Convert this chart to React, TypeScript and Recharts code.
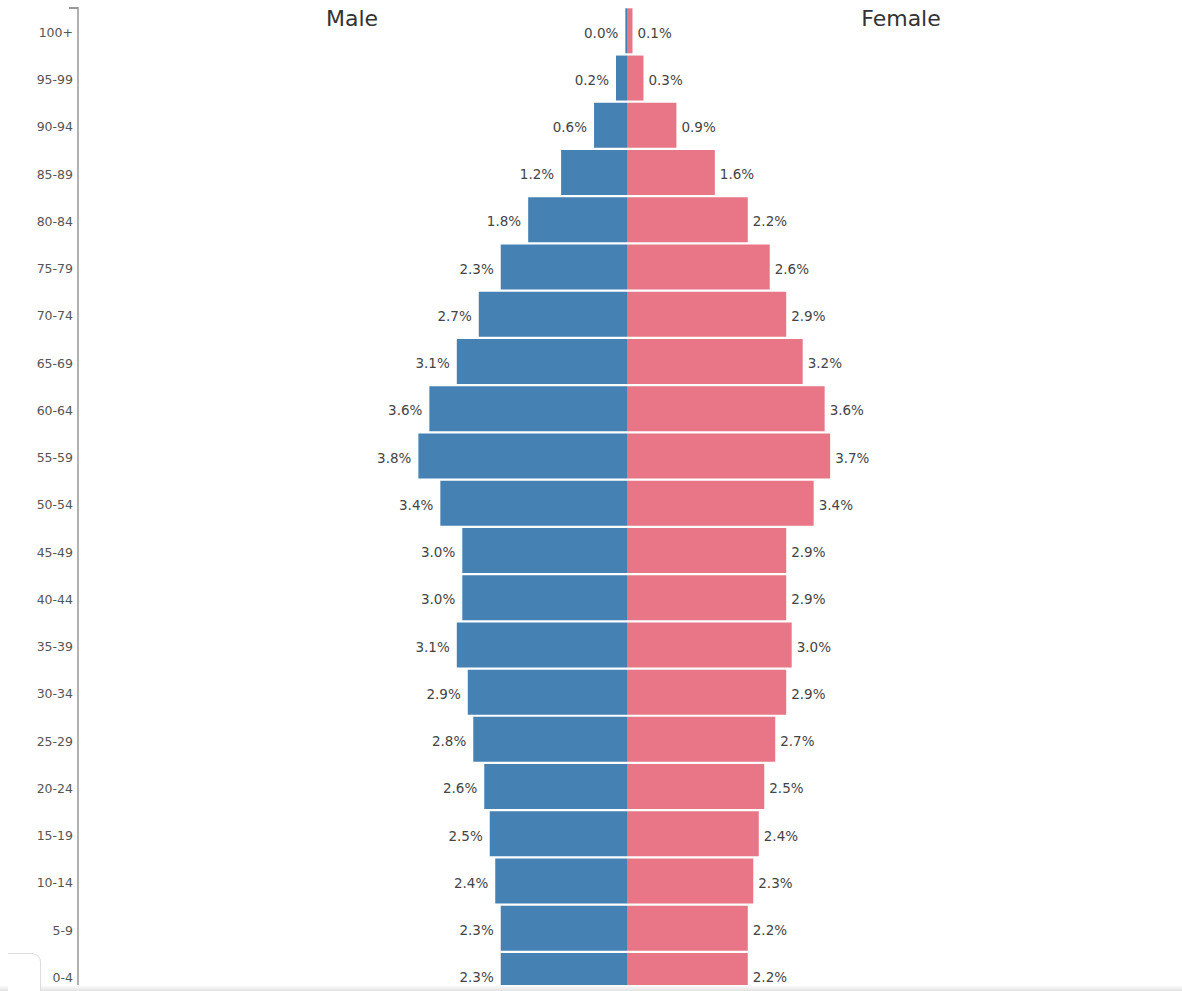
import React from 'react';
import { BarChart, Bar, XAxis, YAxis, LabelList } from 'recharts';

const ageGroups = [
  '100+', '95-99', '90-94', '85-89', '80-84', '75-79', '70-74', '65-69', '60-64', '55-59', '50-54',
  '45-49', '40-44', '35-39', '30-34', '25-29', '20-24', '15-19', '10-14', '5-9', '0-4',
];

// percent of total population (100+ male is a sliver that rounds to 0.0)
const maleShare = [0.03, 0.2, 0.6, 1.2, 1.8, 2.3, 2.7, 3.1, 3.6, 3.8, 3.4, 3.0, 3.0, 3.1, 2.9, 2.8, 2.6, 2.5, 2.4, 2.3, 2.3];
const femaleShare = [0.1, 0.3, 0.9, 1.6, 2.2, 2.6, 2.9, 3.2, 3.6, 3.7, 3.4, 2.9, 2.9, 3.0, 2.9, 2.7, 2.5, 2.4, 2.3, 2.2, 2.2];

const MALE_COLOR = '#4681b3';
const FEMALE_COLOR = '#e87686';
const FONT = '"DejaVu Sans", Arial, sans-serif';

const rows = ageGroups.map((age, i) => ({
  age,
  male: -maleShare[i],
  female: femaleShare[i],
}));

const fmt = (v: number) => `${Math.abs(v).toFixed(1)}%`;

const MaleLabel = (props: any) => {
  const { x, y, width, height, value } = props;
  const edge = Math.min(x, x + width);
  return (
    <text x={edge - 7} y={y + height / 2 + 2} dy="0.35em" textAnchor="end"
      fontSize={13.5} fill="#444" fontFamily={FONT}>
      {fmt(value)}
    </text>
  );
};

const FemaleLabel = (props: any) => {
  const { x, y, width, height, value } = props;
  const edge = Math.max(x, x + width);
  return (
    <text x={edge + 5} y={y + height / 2 + 2} dy="0.35em" textAnchor="start"
      fontSize={13.5} fill="#444" fontFamily={FONT}>
      {fmt(value)}
    </text>
  );
};

const AgeTick = (props: any) => {
  const { x, y, payload } = props;
  return (
    <text x={x} y={y + 2} dy="0.35em" textAnchor="end" fontSize={12.5} fill="#555" fontFamily={FONT}>
      {payload.value}
    </text>
  );
};

export default function App() {
  return (
    <div style={{ position: 'absolute', left: 0, top: 0, width: 1182, height: 991, overflow: 'hidden', background: '#fff' }}>
      <BarChart
        width={1182}
        height={1000}
        data={rows}
        layout="vertical"
        stackOffset="sign"
        barCategoryGap={1.3}
        margin={{ top: 7, right: 6, bottom: 1, left: 0 }}
      >
        <XAxis type="number" domain={[-10, 10]} hide />
        <YAxis
          type="category"
          dataKey="age"
          width={78}
          axisLine={{ stroke: '#999', strokeWidth: 1.5 }}
          tickLine={false}
          tickSize={0}
          tickMargin={5}
          interval={0}
          tick={<AgeTick />}
        />
        <Bar dataKey="male" stackId="pop" fill={MALE_COLOR} isAnimationActive={false}>
          <LabelList dataKey="male" content={<MaleLabel />} />
        </Bar>
        <Bar dataKey="female" stackId="pop" fill={FEMALE_COLOR} isAnimationActive={false}>
          <LabelList dataKey="female" content={<FemaleLabel />} />
        </Bar>
      </BarChart>

      {/* outer tick at the top of the axis */}
      <div style={{ position: 'absolute', left: 69, top: 7, width: 9, height: 1.5, background: '#999' }} />

      <div style={{ position: 'absolute', left: 252, top: 8, width: 200, textAlign: 'center', fontFamily: FONT, fontSize: 22, lineHeight: '22px', color: '#333' }}>
        Male
      </div>
      <div style={{ position: 'absolute', left: 801, top: 8, width: 200, textAlign: 'center', fontFamily: FONT, fontSize: 22, lineHeight: '22px', color: '#333' }}>
        Female
      </div>

      {/* browser chrome left in the screenshot */}
      <div style={{ position: 'absolute', left: 0, top: 985, width: 1182, height: 6, background: 'linear-gradient(#fff, #e2e2e2)' }} />
      <div style={{ position: 'absolute', left: 8, top: 953, width: 32, height: 38, borderTop: '1px solid #ddd', borderRight: '1px solid #ddd', borderTopRightRadius: 9, background: '#fff' }} />
    </div>
  );
}
